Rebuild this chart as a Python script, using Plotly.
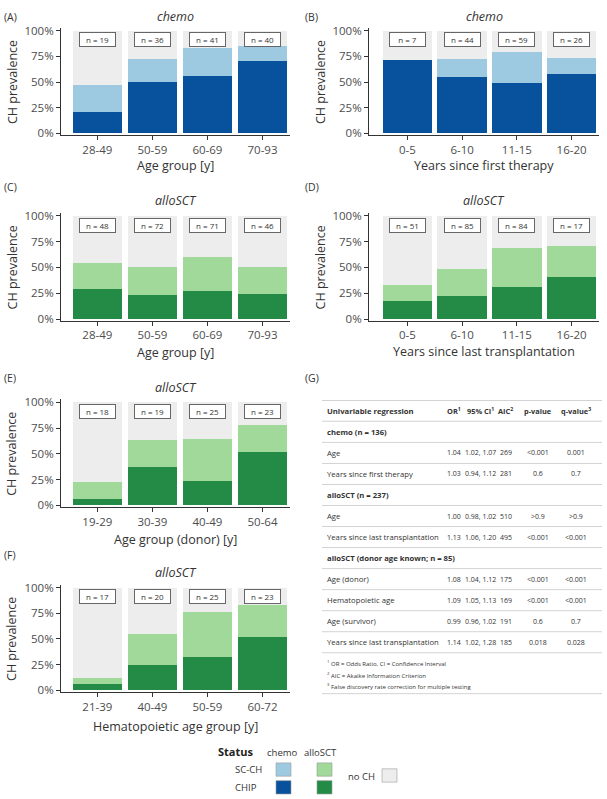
import plotly.graph_objects as go

W, H = 607, 799
FONT = "Open Sans"
TXT = "#333333"

# ---------------- data ----------------
age_groups = ["28-49", "50-59", "60-69", "70-93"]
years_first_groups = ["0-5", "6-10", "11-15", "16-20"]
years_last_groups = ["0-5", "6-10", "11-15", "16-20"]
donor_age_groups = ["19-29", "30-39", "40-49", "50-64"]
hema_age_groups = ["21-39", "40-49", "50-59", "60-72"]

# counts: n per group, CHIP carriers, SC-CH carriers
a_n = [19, 36, 41, 40]; a_chip = [4, 18, 23, 28]; a_sc = [5, 8, 11, 6]
b_n = [7, 44, 59, 26];  b_chip = [5, 24, 29, 15]; b_sc = [0, 8, 18, 4]
c_n = [48, 72, 71, 46]; c_chip = [14, 17, 19, 11]; c_sc = [12, 19, 24, 12]
d_n = [51, 85, 84, 17]; d_chip = [9, 19, 26, 7];  d_sc = [8, 22, 32, 5]
e_n = [18, 19, 25, 23]; e_chip = [1, 7, 6, 12];   e_sc = [3, 5, 10, 6]
f_n = [17, 20, 25, 23]; f_chip = [1, 5, 8, 12];   f_sc = [1, 6, 11, 7]

# table
tbl_header = ["Univariable regression", "OR<sup>1</sup>", "95% CI<sup>1</sup>",
              "AIC<sup>2</sup>", "p-value", "q-value<sup>3</sup>"]
tbl_label = ["chemo (n = 136)", "Age", "Years since first therapy",
             "alloSCT (n = 237)", "Age", "Years since last transplantation",
             "alloSCT (donor age known; n = 85)", "Age (donor)", "Hematopoietic age",
             "Age (survivor)", "Years since last transplantation"]
tbl_group = [True, False, False, True, False, False, True, False, False, False, False]
tbl_or = ["", "1.04", "1.03", "", "1.00", "1.13", "", "1.08", "1.09", "0.99", "1.14"]
tbl_ci = ["", "1.02, 1.07", "0.94, 1.12", "", "0.98, 1.02", "1.06, 1.20", "",
          "1.04, 1.12", "1.05, 1.13", "0.96, 1.02", "1.02, 1.28"]
tbl_aic = ["", "269", "281", "", "510", "495", "", "175", "169", "191", "185"]
tbl_p = ["", "&lt;0.001", "0.6", "", "&gt;0.9", "&lt;0.001", "", "&lt;0.001",
         "&lt;0.001", "0.6", "0.018"]
tbl_q = ["", "0.001", "0.7", "", "&gt;0.9", "&lt;0.001", "", "&lt;0.001",
         "&lt;0.001", "0.7", "0.028"]
tbl_notes = ["<sup>1</sup> OR = Odds Ratio, CI = Confidence Interval",
             "<sup>2</sup> AIC = Akaike Information Criterion",
             "<sup>3</sup> False discovery rate correction for multiple testing"]

# colours
COL = {"chemo": ("#08519c", "#9ecae1"), "alloSCT": ("#238b45", "#a1d99b")}
NOCH = "#ededed"


def X(px):
    return px / W


def Y(px):
    return 1 - px / H


def txt(px, py, text, size, xanchor="center", color=TXT, angle=0):
    return dict(x=X(px), y=Y(py), xref="paper", yref="paper", xanchor=xanchor,
                yanchor="middle", text=text, showarrow=False, textangle=angle,
                font=dict(size=size, color=color, family=FONT))


panels = [
    # letter, cats, n, chip, sc, cohort, xtitle, x_left, x_right, xr0, y100, y0, title_y, letter_y, xtitle_y
    ("A", age_groups, a_n, a_chip, a_sc, "chemo", "Age group [y]", 61, 290, -0.66, 26, 130, 12, 12, 163),
    ("B", years_first_groups, b_n, b_chip, b_sc, "chemo", "Years since first therapy", 369, 599, -0.70, 26, 130, 12, 12, 163),
    ("C", age_groups, c_n, c_chip, c_sc, "alloSCT", "Age group [y]", 61, 290, -0.66, 213.5, 318, 198, 184, 352),
    ("D", years_last_groups, d_n, d_chip, d_sc, "alloSCT", "Years since last transplantation", 369, 599, -0.70, 213.5, 318, 198, 184, 351),
    ("E", donor_age_groups, e_n, e_chip, e_sc, "alloSCT", "Age group (donor) [y]", 61, 290, -0.66, 402.5, 506.5, 387, 378, 541),
    ("F", hema_age_groups, f_n, f_chip, f_sc, "alloSCT", "Hematopoietic age group [y]", 61, 290, -0.66, 590, 694, 575, 557, 731),
]

fig = go.Figure()
layout = {}
annotations = []
shapes = []
YR = [-0.015, 1.03]

for i, (letter, cats, n, chip, sc, cohort, xtitle, xl, xr, xr0, y100, y0, ty, ly, xty) in enumerate(panels):
    k = "" if i == 0 else str(i + 1)
    xa, ya = "x" + k, "y" + k
    dark, light = COL[cohort]
    chip_f = [c / m for c, m in zip(chip, n)]
    sc_f = [s / m for s, m in zip(sc, n)]
    no_f = [1 - a - b for a, b in zip(chip_f, sc_f)]
    for vals, col, name in ((chip_f, dark, "CHIP"), (sc_f, light, "SC-CH"), (no_f, NOCH, "no CH")):
        fig.add_trace(go.Bar(x=cats, y=vals, marker=dict(color=col, line=dict(width=0)),
                             xaxis=xa, yaxis=ya, showlegend=False, name=name,
                             hoverinfo="skip"))
    scale = y0 - y100
    ybot = y0 + (0 - YR[0]) * scale
    ytop = y100 - (YR[1] - 1) * scale
    layout["xaxis" + k] = dict(
        domain=[X(xl), X(xr)], anchor=ya, range=[xr0, 3.5], type="category",
        showline=True, linecolor="#333333", linewidth=1, ticks="outside", ticklen=4,
        tickcolor="#333333", tickfont=dict(size=11.5, color="#4d4d4d", family=FONT),
        showgrid=False, zeroline=False, fixedrange=True)
    layout["yaxis" + k] = dict(
        domain=[Y(ybot), Y(ytop)], anchor=xa, range=YR,
        tickvals=[0, 0.25, 0.5, 0.75, 1], ticktext=["0%", "25%", "50%", "75%", "100%"],
        showline=True, linecolor="#333333", linewidth=1, ticks="outside", ticklen=4,
        tickcolor="#333333", tickfont=dict(size=11.5, color="#4d4d4d", family=FONT),
        showgrid=False, zeroline=False, fixedrange=True)
    # n labels
    for c, m in zip(cats, n):
        annotations.append(dict(x=c, y=0.91, xref=xa, yref=ya, text=f"n = {m}",
                                showarrow=False, font=dict(size=8, color=TXT, family=FONT),
                                bgcolor="white", bordercolor="#666666", borderwidth=1,
                                borderpad=1, width=33, height=11, xanchor="center",
                                yanchor="middle"))
    annotations.append(txt((xl + xr) / 2, ty, f"<i>{cohort}</i>", 12.5))
    lx = 2 if xl < 300 else 303
    annotations.append(txt(lx, ly, f"({letter})", 10.5, xanchor="left"))
    annotations.append(txt((xl + xr) / 2, xty, xtitle, 12.5))
    annotations.append(txt(xl - 49, (y100 + y0) / 2, "CH prevalence", 12.5, angle=-90))

# ---------------- table (G) ----------------
annotations.append(txt(303, 378, "(G)", 10.5, xanchor="left"))
TL, TR = 322, 602
col_x = [325, 454, 480, 505.5, 538, 576]
row0 = 411
dy = 21.3
LFS_T = 7.7     # label column font
NFS_T = 7.0     # numeric column font
HFS_T = 7.4     # numeric header font
LINE = "#d3d3d3"


def hline(py, color=LINE, w=1):
    shapes.append(dict(type="line", xref="paper", yref="paper", x0=X(TL), x1=X(TR),
                       y0=Y(py), y1=Y(py), line=dict(color=color, width=w)))


hline(row0 - 10.5)
for j, h in enumerate(tbl_header):
    annotations.append(txt(col_x[j], row0, f"<b>{h}</b>", LFS_T if j == 0 else HFS_T,
                           xanchor="left" if j == 0 else "center"))
hline(row0 + 10.5)
cols = [tbl_label, tbl_or, tbl_ci, tbl_aic, tbl_p, tbl_q]
for r in range(len(tbl_label)):
    py = row0 + dy * (r + 1)
    for j, col in enumerate(cols):
        t = col[r]
        if not t:
            continue
        if j == 0 and tbl_group[r]:
            t = f"<b>{t}</b>"
        annotations.append(txt(col_x[j], py, t, LFS_T if j == 0 else NFS_T,
                               xanchor="left" if j == 0 else "center"))
    hline(py + dy / 2)
last = row0 + dy * len(tbl_label)
for q, note in enumerate(tbl_notes):
    annotations.append(txt(col_x[0], last + 21.5 + 11.8 * q, note, 6, xanchor="left"))
hline(last + 21.5 + 11.8 * 2 + 7)

# ---------------- legend ----------------
LFS = 9.5
annotations.append(txt(216, 756, "<b>Status</b>", 11, xanchor="left", color="#222222"))
annotations.append(txt(282, 757, "chemo", LFS))
annotations.append(txt(321, 757, "alloSCT", LFS))
annotations.append(txt(233, 774, "SC-CH", LFS, xanchor="left"))
annotations.append(txt(233, 792, "CHIP", LFS, xanchor="left"))
annotations.append(txt(346, 781, "no CH", LFS, xanchor="left"))


def swatch(x0, y0, color, lc):
    shapes.append(dict(type="rect", xref="paper", yref="paper", x0=X(x0), x1=X(x0 + 15),
                       y0=Y(y0), y1=Y(y0 + 13.5), fillcolor=color,
                       line=dict(color=lc, width=0.6)))


swatch(276, 767.5, COL["chemo"][1], "#9a9a9a")
swatch(276, 785.5, COL["chemo"][0], "#9a9a9a")
swatch(317, 767.5, COL["alloSCT"][1], "#9a9a9a")
swatch(317, 785.5, COL["alloSCT"][0], "#9a9a9a")
swatch(382, 773.5, NOCH, "#9a9a9a")

fig.update_layout(
    width=W, height=H, margin=dict(l=0, r=0, t=0, b=0),
    paper_bgcolor="white", plot_bgcolor="white",
    barmode="stack", bargap=0.1, showlegend=False,
    font=dict(family=FONT, color=TXT),
    annotations=annotations, shapes=shapes, **layout)

fig.write_html("out.html", config={"displayModeBar": False})
